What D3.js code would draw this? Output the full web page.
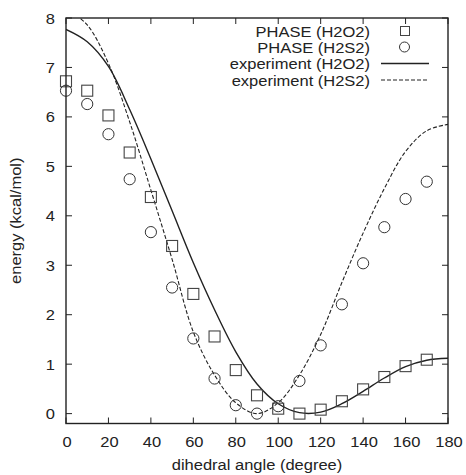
<!DOCTYPE html>
<html><head><meta charset="utf-8">
<script src="https://cdn.jsdelivr.net/npm/d3@7"></script>
<style>
body{margin:0;background:#fff;}
text{font-family:"Liberation Sans",Arial,sans-serif;fill:#222;}
</style></head>
<body><svg id="c" width="466" height="475"></svg>
<script>
const angles = [0,10,20,30,40,50,60,70,80,90,100,110,120,130,140,150,160,170];
const phaseH2O2 = [6.72,6.53,6.03,5.28,4.38,3.39,2.42,1.56,0.88,0.37,0.10,0.0,0.08,0.25,0.49,0.74,0.96,1.09];
const phaseH2S2 = [6.53,6.26,5.65,4.74,3.67,2.55,1.52,0.71,0.17,0.0,0.15,0.66,1.38,2.21,3.04,3.77,4.34,4.69];
const curveAngles = [0,10,20,30,40,50,60,70,80,90,100,110,120,130,140,150,160,170,180];
const expH2O2 = [7.77,7.52,7.02,6.15,5.15,4.1,3.05,2.1,1.25,0.6,0.2,0.02,0.03,0.2,0.45,0.72,0.95,1.08,1.12];
const expH2S2 = [8.2,7.86,7.08,5.9,4.52,3.12,1.65,0.78,0.22,0.0,0.22,0.78,1.6,2.65,3.65,4.55,5.3,5.72,5.85];
const xTicks = [0,20,40,60,80,100,120,140,160,180];
const yTicks = [0,1,2,3,4,5,6,7,8];
const legendLabels = ["PHASE (H2O2)","PHASE (H2S2)","experiment (H2O2)","experiment (H2S2)"];

const svg = d3.select("#c");
const L=66,R=448,T=18,B=423.5;
const x = d3.scaleLinear().domain([0,180]).range([L,R]);
const y = d3.scaleLinear().domain([-0.2,8]).range([B,T]);
const ink="#222";
const FS=15, SX=1.1;

function label(px,py,s,anchor,rot){
  return svg.append("text")
    .attr("transform","translate("+px+","+py+")"+(rot?" rotate("+rot+")":"")+" scale("+SX+",1)")
    .attr("text-anchor",anchor).attr("font-size",FS).text(s);
}

svg.append("defs").append("clipPath").attr("id","clip")
  .append("rect").attr("x",L).attr("y",T).attr("width",R-L).attr("height",B-T);

const tl=6;
const g=svg.append("g");
xTicks.forEach(t=>{
  g.append("line").attr("x1",x(t)).attr("x2",x(t)).attr("y1",B).attr("y2",B-tl).attr("stroke",ink);
  g.append("line").attr("x1",x(t)).attr("x2",x(t)).attr("y1",T).attr("y2",T+tl).attr("stroke",ink);
  label(x(t)+1,447,t,"middle");
});
yTicks.forEach(t=>{
  g.append("line").attr("x1",L).attr("x2",L+tl).attr("y1",y(t)).attr("y2",y(t)).attr("stroke",ink);
  g.append("line").attr("x1",R).attr("x2",R-tl).attr("y1",y(t)).attr("y2",y(t)).attr("stroke",ink);
  label(55,y(t)+5.5,t,"end");
});

label((L+R)/2,470,"dihedral angle (degree)","middle");
label(21,(T+B)/2,"energy (kcal/mol)","middle",-90);

const line = d3.line().x(d=>x(d[0])).y(d=>y(d[1])).curve(d3.curveCatmullRom.alpha(0.5));
const plot = svg.append("g").attr("clip-path","url(#clip)");
plot.append("path").attr("d",line(curveAngles.map((a,i)=>[a,expH2O2[i]])))
  .attr("fill","none").attr("stroke",ink).attr("stroke-width",1.4);
plot.append("path").attr("d",line(curveAngles.map((a,i)=>[a,expH2S2[i]])))
  .attr("fill","none").attr("stroke",ink).attr("stroke-width",1.1).attr("stroke-dasharray","4,2");

const sq=11, cr=5.6;
const markers = svg.append("g");
angles.forEach((a,i)=>{
  markers.append("rect").attr("x",x(a)-sq/2).attr("y",y(phaseH2O2[i])-sq/2).attr("width",sq).attr("height",sq)
    .attr("fill","none").attr("stroke","#444").attr("stroke-width",1.1);
  markers.append("circle").attr("cx",x(a)).attr("cy",y(phaseH2S2[i])).attr("r",cr)
    .attr("fill","none").attr("stroke","#333").attr("stroke-width",1);
});

svg.append("rect").attr("x",L).attr("y",T).attr("width",R-L).attr("height",B-T)
  .attr("fill","none").attr("stroke",ink).attr("stroke-width",1.4);

const ly=[31,47,63.5,80];
legendLabels.forEach((s,i)=>{ label(370,ly[i]+5.5,s,"end"); });
svg.append("rect").attr("x",405-4.5).attr("y",ly[0]-4.5).attr("width",9).attr("height",9)
  .attr("fill","none").attr("stroke","#444").attr("stroke-width",1);
svg.append("circle").attr("cx",404.5).attr("cy",ly[1]).attr("r",5).attr("fill","none").attr("stroke","#333");
svg.append("line").attr("x1",381).attr("x2",429).attr("y1",ly[2]).attr("y2",ly[2]).attr("stroke",ink).attr("stroke-width",1.4);
svg.append("line").attr("x1",381).attr("x2",429).attr("y1",ly[3]).attr("y2",ly[3]).attr("stroke",ink).attr("stroke-width",1.1).attr("stroke-dasharray","4,2");
</script></body></html>
